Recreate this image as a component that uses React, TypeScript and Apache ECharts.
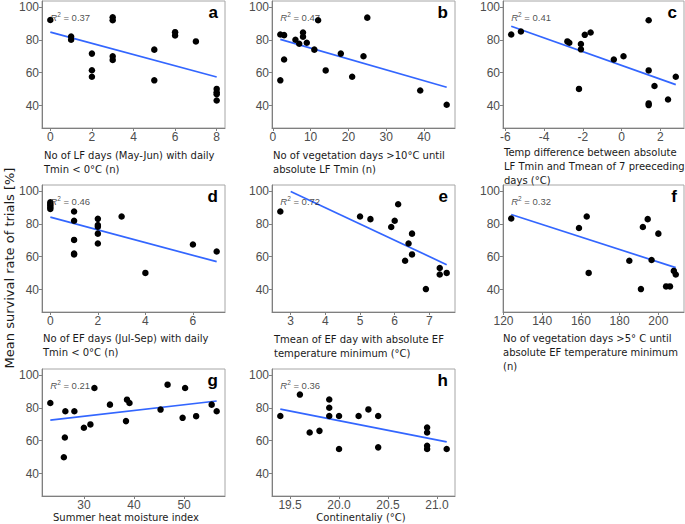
import React, { useEffect, useRef } from "react";
import * as echarts from "echarts";

// ---- shared y scale ----
const Y_TICKS = [40, 60, 80, 100];
const Y_MIN = 26.5;
const Y_MAX = 103.5;
const R2_Y = 94;

// ---- panel a ----
const aX = [0, 1, 1, 2, 2, 2, 3, 3, 3, 3, 5, 5, 6, 6, 7, 8, 8, 8, 8];
const aY = [92, 82, 80, 71.6, 61.5, 57.6, 93.6, 91.8, 70, 67.8, 74, 55.4, 84.6, 82.6, 79, 50.2, 48.2, 47, 43.2];
const aFit = [[0, 84.6], [8, 57.4]];
const aTicks = [0, 2, 4, 6, 8];
const aR2 = "0.37";
const aTitle = "No of LF days (May-Jun) with daily\nTmin < 0°C (n)";

// ---- panel b ----
const bX = [2, 3, 2, 3, 6, 7, 8, 8, 9, 11, 12, 14, 18, 21, 24, 25, 39, 46];
const bY = [83.2, 82.8, 55.4, 68, 80, 77.6, 84.4, 81.8, 78.2, 74, 91.8, 61.4, 71.6, 57.6, 70, 93.4, 49.2, 40.6];
const bFit = [[2, 80.2], [46, 51.2]];
const bTicks = [0, 10, 20, 30, 40];
const bR2 = "0.47";
const bTitle = "No of vegetation days >10°C until\nabsolute LF Tmin (n)";

// ---- panel c ----
const cX = [-5.7, -5.2, -2.8, -2.7, -1.9, -1.6, -2.1, -2.1, -2.2, -0.4, 0.1, 1.4, 1.4, 1.4, 1.4, 1.7, 2.4, 2.8];
const cY = [83.2, 85, 79, 78.2, 83, 84.4, 77.4, 74.2, 50.2, 68, 70, 91.8, 61.4, 41.4, 40.4, 52, 43.8, 57.6];
const cFit = [[-5.7, 88.2], [2.8, 52.8]];
const cTicks = [-6, -4, -2, 0, 2];
const cR2 = "0.41";
const cTitle = "Temp difference between absolute\nLF Tmin and Tmean of 7 preeceding\ndays (°C)";

// ---- panel d ----
const dX = [0, 0, 0, 0, 0, 1, 1, 1, 1, 1, 2, 2, 2, 2, 2, 3, 4, 6, 7];
const dY = [93, 92, 91, 90, 89, 87.4, 81.8, 70.2, 62, 61.4, 83, 79.2, 78.2, 74, 68, 84.4, 50.2, 67.4, 63.2];
const dFit = [[0, 84], [7, 57]];
const dTicks = [0, 2, 4, 6];
const dR2 = "0.46";
const dTitle = "No of EF days (Jul-Sep) with daily\nTmin < 0°C (n)";

// ---- panel e ----
const eX = [2.7, 5, 5.3, 5.9, 6.0, 6.1, 6.4, 6.5, 6.5, 6.3, 6.9, 7.3, 7.3, 7.5];
const eY = [87.4, 84.4, 82.8, 78, 81.8, 91.8, 68, 74, 61.4, 57.6, 40.4, 53.2, 49.2, 50.2];
const eFit = [[3, 99.6], [7.5, 55.2]];
const eTicks = [3, 4, 5, 6, 7];
const eR2 = "0.72";
const eTitle = "Tmean of EF day with absolute EF\ntemperature minimum (°C)";

// ---- panel f ----
const fX = [124, 159, 163, 164, 185, 191, 192, 194.5, 196.5, 200, 204, 206, 208, 209];
const fY = [83.2, 77.4, 84.4, 50.2, 57.6, 40.4, 78, 82.8, 58, 74, 42, 42, 51.4, 49.2];
const fFit = [[124, 85.6], [209, 53.4]];
const fTicks = [120, 140, 160, 180, 200];
const fR2 = "0.32";
const fTitle = "No of vegetation days >5° C until\nabsolute EF temperature minimum\n(n)";

// ---- panel g ----
const gX = [23.3, 26.3, 26.2, 26, 28.1, 30, 31.3, 32.1, 35.2, 38.4, 38.6, 39.1, 45.3, 46.7, 49.7, 50.2, 52.4, 55.5, 56.5];
const gY = [82.9, 77.9, 62, 50, 77.9, 67.9, 69.9, 92, 81.9, 71.9, 84.9, 82.9, 78.9, 94, 73.9, 92, 74.9, 81.9, 77.9];
const gFit = [[23.3, 72.5], [56.5, 84.1]];
const gTicks = [30, 40, 50];
const gR2 = "0.21";
const gTitle = "Summer heat moisture index";

// ---- panel h ----
const hX = [19.4, 19.6, 19.7, 19.8, 19.9, 19.9, 19.9, 20.0, 20.0, 20.2, 20.3, 20.4, 20.4, 20.9, 20.9, 20.9, 20.9, 21.1];
const hY = [75, 88, 65, 66, 85, 80, 75, 75, 55, 75, 79, 75, 56, 68, 65, 57, 55, 55];
const hFit = [[19.4, 79.2], [21.1, 59.3]];
const hTicks = [19.5, 20.0, 20.5, 21.0];
const hR2 = "0.36";
const hTitle = "Continentaliy (°C)";

const Y_TITLE = "Mean survival rate of trials [%]";

// ---- layout ----
const COLS = [
  { left: 42, width: 183 },
  { left: 272, width: 183 },
  { left: 503, width: 181 },
];
const ROWS = [
  { top: 1, height: 127 },
  { top: 185, height: 127 },
  { top: 369, height: 127 },
];

type Panel = {
  x: number[];
  y: number[];
  fit: number[][];
  ticks: number[];
  r2: string;
  letter: string;
  title: string;
  titleX: number;
  titleY: number;
  titleAlign: "left" | "center";
  decimals: number;
};

const PANELS: Panel[] = [
  { x: aX, y: aY, fit: aFit, ticks: aTicks, r2: aR2, letter: "a", title: aTitle, titleX: 44, titleY: 155, titleAlign: "left", decimals: 0 },
  { x: bX, y: bY, fit: bFit, ticks: bTicks, r2: bR2, letter: "b", title: bTitle, titleX: 273, titleY: 155, titleAlign: "left", decimals: 0 },
  { x: cX, y: cY, fit: cFit, ticks: cTicks, r2: cR2, letter: "c", title: cTitle, titleX: 504, titleY: 152, titleAlign: "left", decimals: 0 },
  { x: dX, y: dY, fit: dFit, ticks: dTicks, r2: dR2, letter: "d", title: dTitle, titleX: 43, titleY: 338, titleAlign: "left", decimals: 0 },
  { x: eX, y: eY, fit: eFit, ticks: eTicks, r2: eR2, letter: "e", title: eTitle, titleX: 274, titleY: 339, titleAlign: "left", decimals: 0 },
  { x: fX, y: fY, fit: fFit, ticks: fTicks, r2: fR2, letter: "f", title: fTitle, titleX: 503, titleY: 338, titleAlign: "left", decimals: 0 },
  { x: gX, y: gY, fit: gFit, ticks: gTicks, r2: gR2, letter: "g", title: gTitle, titleX: 126, titleY: 517, titleAlign: "center", decimals: 0 },
  { x: hX, y: hY, fit: hFit, ticks: hTicks, r2: hR2, letter: "h", title: hTitle, titleX: 361, titleY: 517, titleAlign: "center", decimals: 1 },
];

const AXIS_COLOR = "#7f7f7f";
const LABEL_COLOR = "#4d4d4d";
const TICK_FONT = "Liberation Sans";
const TITLE_FONT = "DejaVu Sans";
const TITLE_LH = 14;

function buildOption() {
  const grids: any[] = [];
  const xAxes: any[] = [];
  const yAxes: any[] = [];
  const series: any[] = [];
  const graphics: any[] = [];

  PANELS.forEach((p, i) => {
    const col = COLS[i % 3];
    const row = ROWS[Math.floor(i / 3)];
    grids.push({
      left: col.left,
      top: row.top,
      width: col.width,
      height: row.height,
      show: true,
      borderColor: "#a6a6a6",
      borderWidth: 1,
      backgroundColor: "#ffffff",
      containLabel: false,
    });

    const allX = p.x.concat(p.fit.map((d) => d[0]));
    const lo = Math.min(...allX);
    const hi = Math.max(...allX);
    const pad = (hi - lo) * 0.05;

    xAxes.push({
      type: "value",
      gridIndex: i,
      min: lo - pad,
      max: hi + pad,
      splitLine: { show: false },
      axisLine: { show: true, onZero: false, lineStyle: { color: AXIS_COLOR, width: 1 } },
      axisTick: { show: true, length: 3, customValues: p.ticks, lineStyle: { color: AXIS_COLOR } },
      axisLabel: {
        customValues: p.ticks,
        color: LABEL_COLOR,
        fontSize: 12,
        fontFamily: TICK_FONT,
        margin: 3,
        formatter: (v: number) => v.toFixed(p.decimals),
      },
    });
    yAxes.push({
      type: "value",
      gridIndex: i,
      min: Y_MIN,
      max: Y_MAX,
      splitLine: { show: false },
      axisLine: { show: true, onZero: false, lineStyle: { color: AXIS_COLOR, width: 1 } },
      axisTick: { show: true, length: 3, customValues: Y_TICKS, lineStyle: { color: AXIS_COLOR } },
      axisLabel: {
        customValues: Y_TICKS,
        color: LABEL_COLOR,
        fontSize: 12,
        fontFamily: TICK_FONT,
        margin: 3,
      },
    });

    series.push({
      type: "line",
      xAxisIndex: i,
      yAxisIndex: i,
      data: p.fit,
      symbol: "none",
      lineStyle: { color: "#3366FF", width: 1.7 },
      z: 2,
      silent: true,
    });
    series.push({
      type: "scatter",
      xAxisIndex: i,
      yAxisIndex: i,
      data: p.x.map((xv, k) => [xv, p.y[k]]),
      symbol: "circle",
      symbolSize: 6.5,
      itemStyle: { color: "#000000", opacity: 1 },
      z: 3,
      silent: true,
    });
    series.push({
      type: "scatter",
      xAxisIndex: i,
      yAxisIndex: i,
      data: [[lo, R2_Y]],
      symbolSize: 0,
      z: 4,
      silent: true,
      label: {
        show: true,
        position: [0, 0],
        align: "left",
        verticalAlign: "middle",
        formatter: "{i|R}{s|2}{n| = " + p.r2 + "}",
        rich: {
          i: { fontSize: 9.5, fontStyle: "italic", fontFamily: TICK_FONT, color: "#1a1a1a", lineHeight: 12, verticalAlign: "bottom" },
          s: { fontSize: 6.5, fontFamily: TICK_FONT, color: "#1a1a1a", lineHeight: 12, verticalAlign: "top" },
          n: { fontSize: 9.5, fontFamily: TICK_FONT, color: "#1a1a1a", lineHeight: 12, verticalAlign: "bottom" },
        },
      },
    });

    // panel letter
    graphics.push({
      type: "text",
      x: col.left + col.width - 7,
      y: row.top + 3,
      z: 10,
      style: {
        text: p.letter,
        fill: "#000",
        fontSize: 17,
        fontWeight: "bold",
        fontFamily: TICK_FONT,
        align: "right",
        verticalAlign: "top",
        textAlign: "right",
        textVerticalAlign: "top",
      },
    });
    // x axis title
    graphics.push({
      type: "text",
      x: p.titleX,
      y: p.titleY - TITLE_LH / 2,
      z: 10,
      style: {
        text: p.title,
        fill: "#1a1a1a",
        fontSize: 10,
        fontFamily: TITLE_FONT,
        lineHeight: TITLE_LH,
        align: p.titleAlign,
        verticalAlign: "top",
        textAlign: p.titleAlign,
        textVerticalAlign: "top",
      },
    });
  });

  graphics.push({
    type: "text",
    x: 9,
    y: 268,
    rotation: Math.PI / 2,
    z: 10,
    style: {
      text: Y_TITLE,
      fill: "#1a1a1a",
      fontSize: 13,
      fontFamily: TITLE_FONT,
      align: "center",
      verticalAlign: "middle",
      textAlign: "center",
      textVerticalAlign: "middle",
    },
  });

  return {
    animation: false,
    backgroundColor: "#ffffff",
    grid: grids,
    xAxis: xAxes,
    yAxis: yAxes,
    series,
    graphic: graphics,
  };
}

export default function App() {
  const ref = useRef<HTMLDivElement>(null);
  useEffect(() => {
    if (!ref.current) return;
    const chart = echarts.init(ref.current, undefined, { renderer: "svg" });
    chart.setOption(buildOption() as any);
    return () => chart.dispose();
  }, []);
  return (
    <div
      ref={ref}
      style={{ position: "fixed", left: 0, top: 0, width: 685, height: 524, background: "#fff" }}
    />
  );
}
